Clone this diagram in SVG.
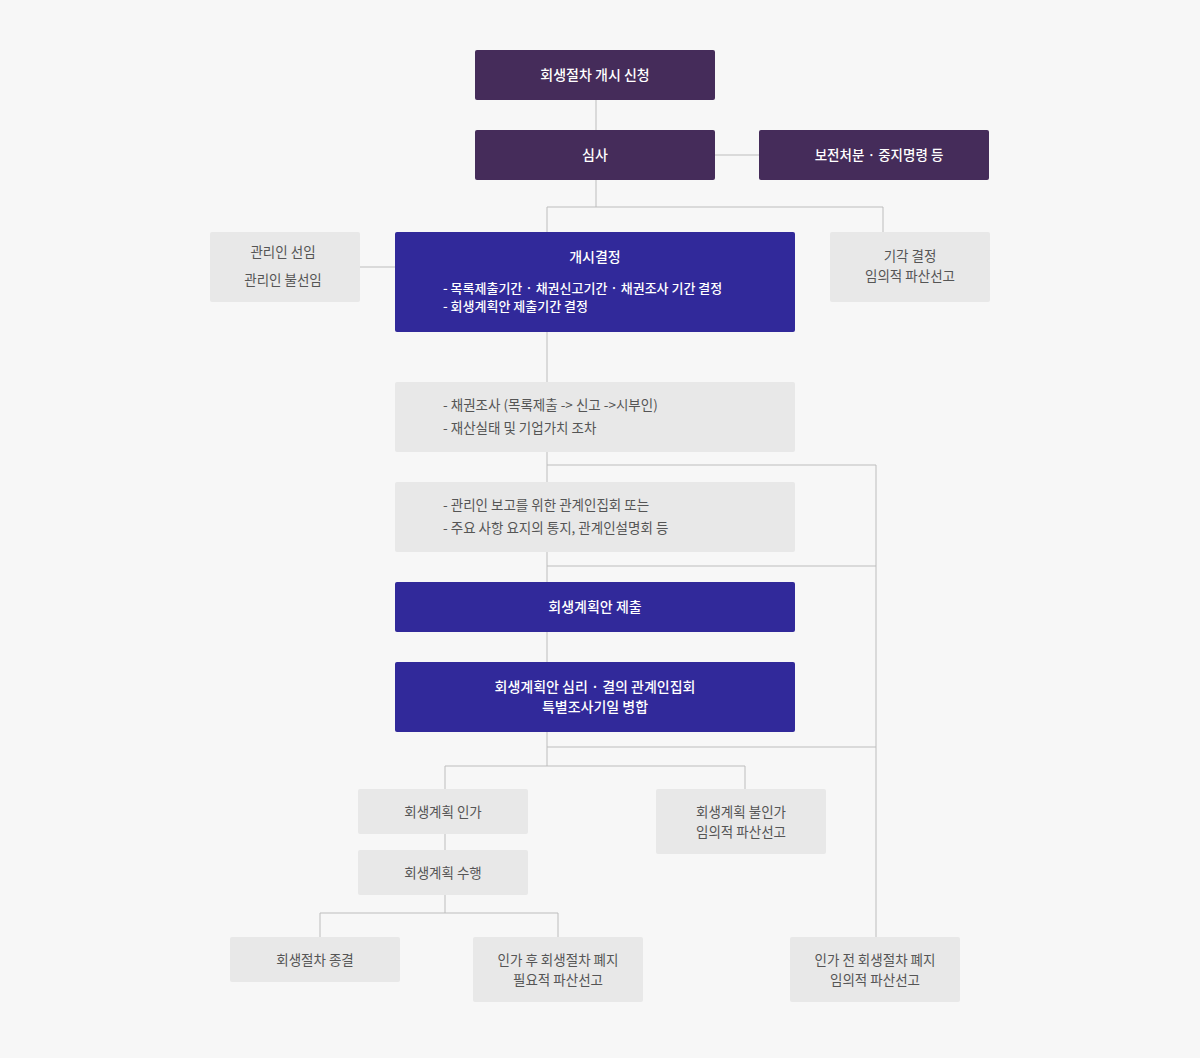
<svg xmlns="http://www.w3.org/2000/svg" width="1200" height="1058" viewBox="0 0 1200 1058">
<style>
text{font-family:"Noto Sans CJK KR","Noto Sans",sans-serif;font-size:14px}
.d{fill:#452c5a}.b{fill:#31299a}.g{fill:#e8e8e8}
.w{fill:#fff;text-anchor:middle;font-weight:500}
.wl{fill:#fff;font-size:13px;font-weight:500}
.t{fill:#555;text-anchor:middle;font-size:13.5px}
.tl{fill:#555;font-size:13.5px}
#connectors path{fill:none;stroke:#bdbdbd;stroke-width:1}
</style>
<rect width="1200" height="1058" fill="#f7f7f7"/>
<g id="connectors">
<path d="M596 100V130M715 155H759M596 180V207M547 207H883M547 207V232M883 207V232M360 267H395M547 332V382M547 452V482M547 465H876V937M547 552V582M547 566H876M547 632V662M547 732V766M547 747H876M445 766H745M445 766V789M745 766V789M445 834V850M445 895V913M320 913H558M320 913V937M558 913V937"/>
</g>
<g id="n1"><rect class="d" x="475" y="50" width="240" height="50" rx="2"/><text class="w" x="595" y="80">회생절차 개시 신청</text></g>
<g id="n2"><rect class="d" x="475" y="130" width="240" height="50" rx="2"/><text class="w" x="595" y="160">심사</text></g>
<g id="n3"><rect class="d" x="759" y="130" width="230" height="50" rx="2"/><text class="w" x="879" y="160" style="font-size:13.5px">보전처분 · 중지명령 등</text></g>
<g id="n4"><rect class="b" x="395" y="232" width="400" height="100" rx="2"/><text class="w" x="595" y="262">개시결정</text>
<text class="wl" x="443" y="293">- 목록제출기간 · 채권신고기간 · 채권조사 기간 결정</text>
<text class="wl" x="443" y="311">- 회생계획안 제출기간 결정</text></g>
<g id="n5"><rect class="g" x="210" y="232" width="150" height="70" rx="2"/><text class="t" x="283" y="257">관리인 선임</text><text class="t" x="283" y="285">관리인 불선임</text></g>
<g id="n6"><rect class="g" x="830" y="232" width="160" height="70" rx="2"/><text class="t" x="910" y="261">기각 결정</text><text class="t" x="910" y="281">임의적 파산선고</text></g>
<g id="n7"><rect class="g" x="395" y="382" width="400" height="70" rx="2"/><text class="tl" x="443" y="410">- 채권조사 (목록제출 -&gt; 신고 -&gt;시부인)</text><text class="tl" x="443" y="433">- 재산실태 및 기업가치 조차</text></g>
<g id="n8"><rect class="g" x="395" y="482" width="400" height="70" rx="2"/><text class="tl" x="443" y="510">- 관리인 보고를 위한 관계인집회 또는</text><text class="tl" x="443" y="533">- 주요 사항 요지의 통지, 관계인설명회 등</text></g>
<g id="n9"><rect class="b" x="395" y="582" width="400" height="50" rx="2"/><text class="w" x="595" y="612">회생계획안 제출</text></g>
<g id="n10"><rect class="b" x="395" y="662" width="400" height="70" rx="2"/><text class="w" x="595" y="692">회생계획안 심리 · 결의 관계인집회</text><text class="w" x="595" y="712">특별조사기일 병합</text></g>
<g id="n11"><rect class="g" x="358" y="789" width="170" height="45" rx="2"/><text class="t" x="443" y="817">회생계획 인가</text></g>
<g id="n12"><rect class="g" x="656" y="789" width="170" height="65" rx="2"/><text class="t" x="741" y="817">회생계획 불인가</text><text class="t" x="741" y="837">임의적 파산선고</text></g>
<g id="n13"><rect class="g" x="358" y="850" width="170" height="45" rx="2"/><text class="t" x="443" y="878">회생계획 수행</text></g>
<g id="n14"><rect class="g" x="230" y="937" width="170" height="45" rx="2"/><text class="t" x="315" y="965">회생절차 종결</text></g>
<g id="n15"><rect class="g" x="473" y="937" width="170" height="65" rx="2"/><text class="t" x="558" y="965">인가 후 회생절차 폐지</text><text class="t" x="558" y="985">필요적 파산선고</text></g>
<g id="n16"><rect class="g" x="790" y="937" width="170" height="65" rx="2"/><text class="t" x="875" y="965">인가 전 회생절차 폐지</text><text class="t" x="875" y="985">임의적 파산선고</text></g>
</svg>
